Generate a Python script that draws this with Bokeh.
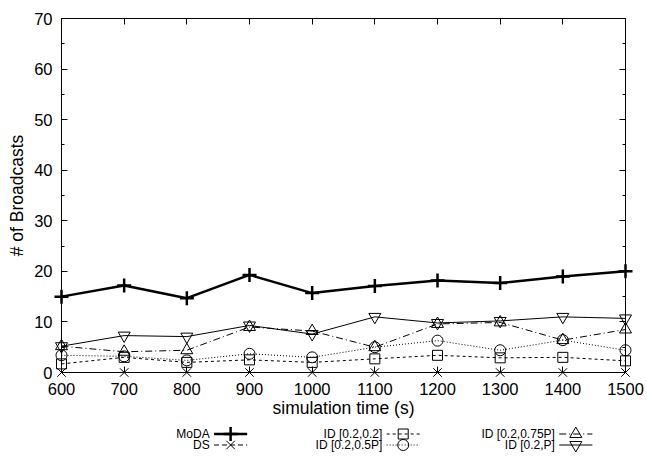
from bokeh.plotting import figure
from bokeh.models import Range1d, LinearAxis, FixedTicker
from bokeh.layouts import column
from bokeh.embed import file_html
from bokeh.resources import INLINE
from bokeh.core.properties import value

# ---------------- data ----------------
times = [600, 700, 800, 900, 1000, 1100, 1200, 1300, 1400, 1500]
moda = [15.0, 17.2, 14.7, 19.3, 15.7, 17.1, 18.2, 17.7, 19.0, 20.0]
ds = [0, 0, 0, 0, 0, 0, 0, 0, 0, 0]
id_02_02 = [1.7, 3.0, 2.0, 2.5, 2.0, 2.7, 3.4, 2.9, 3.0, 2.3]
id_02_05p = [3.4, 3.2, 2.4, 3.7, 3.0, 5.0, 6.3, 4.4, 6.4, 4.4]
id_02_075p = [5.2, 4.1, 4.4, 9.0, 8.2, 5.0, 9.6, 9.9, 6.4, 8.5]
id_02_p = [5.2, 7.3, 7.1, 9.3, 7.6, 11.0, 9.8, 10.2, 11.0, 10.7]

x_ticks = [600, 700, 800, 900, 1000, 1100, 1200, 1300, 1400, 1500]
y_ticks = [0, 10, 20, 30, 40, 50, 60, 70]
y_minor = list(range(0, 71, 5))

FONT = "Liberation Sans"

series = [
    # name, values, marker, dash, line width, marker size
    ("MoDA", moda, "cross", "solid", 2.5, 14),
    ("DS", ds, "x", "5 3", 1, 12),
    ("ID [0.2,0.2]", id_02_02, "square", "3 3", 1, 10),
    ("ID [0.2,0.5P]", id_02_05p, "circle", "1 2", 1, 11),
    ("ID [0.2,0.75P]", id_02_075p, "triangle", "7 3 1 3", 1, 12),
    ("ID [0.2,P]", id_02_p, "inverted_triangle", "solid", 1, 12),
]

# ---------------- main plot ----------------
p = figure(width=647, height=425, output_backend="svg", toolbar_location=None,
           x_range=Range1d(600, 1500), y_range=Range1d(0, 70),
           min_border_left=61, min_border_right=22, min_border_top=18,
           min_border_bottom=53)
p.outline_line_color = "black"
p.outline_line_width = 1
p.grid.visible = False
p.background_fill_color = "white"
p.border_fill_color = "white"

for ax in (p.xaxis[0], p.yaxis[0]):
    ax.major_tick_in = 6
    ax.major_tick_out = 0
    ax.minor_tick_in = 3
    ax.minor_tick_out = 0
    ax.axis_line_color = "black"
    ax.major_label_text_font = FONT
    ax.major_label_text_font_size = "16.5px"
    ax.major_label_text_color = "black"
    ax.axis_label_text_font = FONT
    ax.axis_label_text_font_size = "17.5px"
    ax.axis_label_text_font_style = "normal"
    ax.axis_label_text_color = "black"

p.xaxis[0].ticker = FixedTicker(ticks=x_ticks)
p.yaxis[0].ticker = FixedTicker(ticks=y_ticks, minor_ticks=y_minor)
p.xaxis[0].axis_label = "simulation time (s)"
p.yaxis[0].axis_label = "# of Broadcasts"
p.xaxis[0].major_label_standoff = 10
p.xaxis[0].axis_label_standoff = 0
p.yaxis[0].major_label_standoff = 9
p.yaxis[0].axis_label_standoff = 4

# mirrored ticks on top and right (no labels)
top = LinearAxis(ticker=FixedTicker(ticks=x_ticks), major_tick_in=6, major_tick_out=0,
                 minor_tick_in=0, minor_tick_out=0,
                 major_label_overrides={t: "" for t in x_ticks},
                 major_label_standoff=0, axis_line_color="black")
right = LinearAxis(ticker=FixedTicker(ticks=y_ticks, minor_ticks=y_minor),
                   major_tick_in=6, major_tick_out=0, minor_tick_in=3, minor_tick_out=0,
                   major_label_overrides={t: "" for t in y_ticks},
                   major_label_standoff=0, axis_line_color="black")
p.add_layout(top, "above")
p.add_layout(right, "right")

for name, vals, marker, dash, lw, ms in series:
    p.line(times, vals, line_color="black", line_width=lw, line_dash=dash)
    p.scatter(times, vals, marker=marker, size=ms, line_color="black",
              fill_color=None, line_width=lw if marker == "cross" else 1,
              level="overlay")

# ---------------- legend (separate strip below) ----------------
leg = figure(width=647, height=32, output_backend="svg", toolbar_location=None,
             x_range=Range1d(0, 647), y_range=Range1d(32, 0),
             min_border=0)
leg.axis.visible = False
leg.grid.visible = False
leg.outline_line_color = None

label_right = [170, 170, 368, 368, 566, 566]
sample_x0 = [175, 175, 373, 373, 571, 571]
sample_x1 = [213, 213, 411, 411, 609, 609]
row_y = [8.5, 19.5, 8.5, 19.5, 8.5, 19.5]

for i, (name, vals, marker, dash, lw, ms) in enumerate(series):
    leg.text([label_right[i]], [row_y[i]], text=[name], text_align="right",
             text_baseline="middle", text_font=value(FONT), text_font_size="12px",
             text_color="black")
    leg.line([sample_x0[i], sample_x1[i]], [row_y[i], row_y[i]], line_color="black",
             line_width=lw, line_dash=dash)
    leg.scatter([(sample_x0[i] + sample_x1[i]) / 2], [row_y[i]], marker=marker,
                size=ms, line_color="black", fill_color=None,
                line_width=lw if marker == "cross" else 1)

layout = column(p, leg, spacing=0)
open("out.html", "w").write(file_html(layout, INLINE))
